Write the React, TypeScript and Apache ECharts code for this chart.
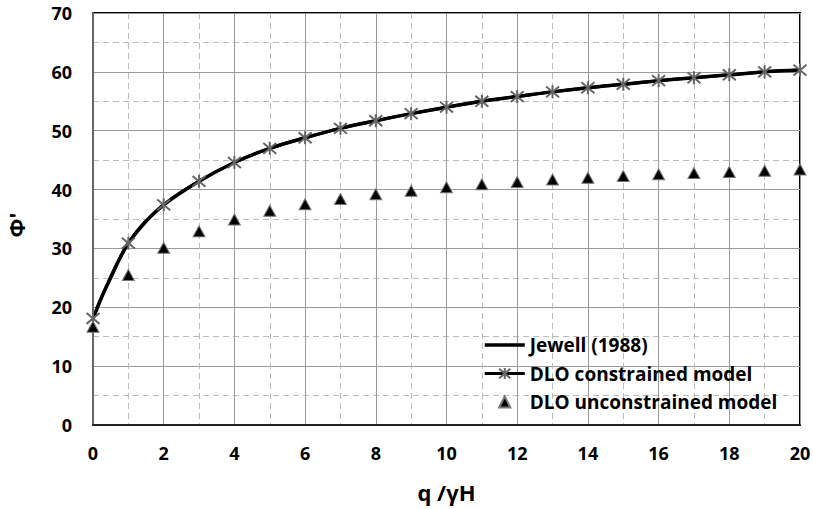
import React, { useEffect, useRef } from "react";
import * as echarts from "echarts";

const qValues = [0, 1, 2, 3, 4, 5, 6, 7, 8, 9, 10, 11, 12, 13, 14, 15, 16, 17, 18, 19, 20];
const constrainedPhi = [18.1, 30.9, 37.4, 41.4, 44.6, 47.0, 48.8, 50.4, 51.7, 52.9, 54.0, 55.0, 55.8, 56.6, 57.3, 57.9, 58.5, 59.0, 59.5, 60.0, 60.3];
const unconstrainedPhi = [16.7, 25.5, 30.1, 32.9, 34.9, 36.4, 37.5, 38.4, 39.2, 39.8, 40.4, 40.9, 41.3, 41.7, 42.0, 42.3, 42.6, 42.8, 43.0, 43.2, 43.4];
const jewellQ = [0, 0.25, 0.5, 0.75, 1, 1.5, 2, 3, 4, 5, 6, 7, 8, 9, 10, 11, 12, 13, 14, 15, 16, 17, 18, 19, 20];
const jewellPhi = [18.1, 21.8, 25.0, 28.2, 30.9, 34.6, 37.4, 41.4, 44.6, 47.0, 48.8, 50.4, 51.7, 52.9, 54.0, 55.0, 55.8, 56.6, 57.3, 57.9, 58.5, 59.0, 59.5, 60.0, 60.3];

const FONT = "Open Sans";

export default function App() {
  const ref = useRef<HTMLDivElement>(null);
  useEffect(() => {
    if (!ref.current) return;
    const chart = echarts.init(ref.current, null, { renderer: "svg" });
    const asterisk = "path://M0,0L10,10M10,0L0,10M5,-1L5,11";
    chart.setOption({
      animation: false,
      backgroundColor: "#fff",
      grid: {
        left: 93,
        right: 13,
        top: 13,
        bottom: 84,
        show: true,
        borderColor: "#000",
        borderWidth: 2,
        outerBoundsMode: "none",
      },
      legend: {
        orient: "vertical",
        left: 478,
        top: 330,
        itemWidth: 40,
        itemHeight: 14,
        itemGap: 8.5,
        textStyle: { fontFamily: FONT, fontWeight: "bold", fontSize: 19, lineHeight: 20, color: "#000" },
        data: [
          {
            name: "Jewell (1988)",
            itemStyle: { color: "transparent", borderColor: "transparent" },
            lineStyle: { color: "#000", width: 3.5 },
          },
          { name: "DLO constrained model", lineStyle: { color: "#000", width: 3 } },
          "DLO unconstrained model",
        ],
      },
      xAxis: {
        type: "value",
        min: 0,
        max: 20,
        interval: 2,
        name: "q /γH",
        nameLocation: "middle",
        nameGap: 56,
        nameTextStyle: { fontFamily: FONT, fontWeight: "bold", fontSize: 22, color: "#000" },
        axisLine: { show: true, onZero: false, lineStyle: { color: "#222", width: 2 } },
        axisTick: { show: false },
        axisLabel: { fontFamily: FONT, fontWeight: "bold", fontSize: 18, color: "#000", margin: 19 },
        splitLine: { show: true, lineStyle: { color: "#999", width: 1 } },
        minorTick: { show: false, splitNumber: 2 },
        minorSplitLine: { show: true, lineStyle: { color: "#bbb", type: [6, 4], width: 1 } },
      },
      yAxis: {
        type: "value",
        min: 0,
        max: 70,
        interval: 10,
        name: "Φ'",
        nameLocation: "middle",
        nameGap: 66,
        nameTextStyle: { fontFamily: FONT, fontWeight: "bold", fontSize: 22, color: "#000", padding: [0, 0, 0, -12] },
        axisLine: { show: true, lineStyle: { color: "#666", width: 2 } },
        axisTick: { show: false },
        axisLabel: { fontFamily: FONT, fontWeight: "bold", fontSize: 18, color: "#000", margin: 21 },
        splitLine: { show: true, lineStyle: { color: "#999", width: 1 } },
        minorTick: { show: false, splitNumber: 2 },
        minorSplitLine: { show: true, lineStyle: { color: "#bbb", type: [6, 4], width: 1 } },
      },
      series: [
        {
          name: "Jewell (1988)",
          type: "line",
          smooth: 0.4,
          symbol: "circle",
          showSymbol: false,
          data: jewellQ.map((q, i) => [q, jewellPhi[i]]),
          lineStyle: { color: "#000", width: 3.5 },
          itemStyle: { color: "#000" },
          z: 2,
        },
        {
          name: "DLO constrained model",
          type: "line",
          smooth: 0.4,
          symbol: asterisk,
          symbolSize: 13,
          data: qValues.map((q, i) => [q, constrainedPhi[i]]),
          lineStyle: { color: "#000", width: 3 },
          itemStyle: { color: "transparent", borderColor: "#666", borderWidth: 2 },
          z: 3,
        },
        {
          name: "DLO unconstrained model",
          type: "line",
          symbol: "triangle",
          symbolSize: [12, 11],
          showAllSymbol: true,
          data: qValues.map((q, i) => [q, unconstrainedPhi[i]]),
          lineStyle: { color: "#000", width: 0, opacity: 0 },
          itemStyle: { color: "#000", borderColor: "#777", borderWidth: 1 },
          z: 4,
        },
      ],
    });
    return () => chart.dispose();
  }, []);
  return <div ref={ref} style={{ width: 813, height: 509, position: "fixed", left: 0, top: 0 }} />;
}
